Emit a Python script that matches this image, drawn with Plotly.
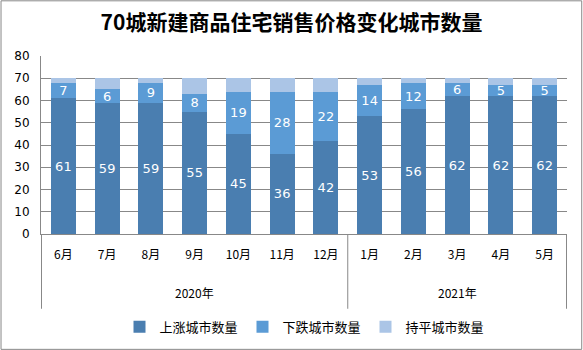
import plotly.graph_objects as go

months = ["6月", "7月", "8月", "9月", "10月", "11月", "12月", "1月", "2月", "3月", "4月", "5月"]
year_labels = ["2020年", "2021年"]
year_centers = ["9月", "3月"]
year_bounds = [-0.5, 6.5, 11.5]
up = [61, 59, 59, 55, 45, 36, 42, 53, 56, 62, 62, 62]
down = [7, 6, 9, 8, 19, 28, 22, 14, 12, 6, 5, 5]
flat = [2, 5, 2, 7, 6, 6, 6, 3, 2, 2, 3, 3]

font_fam = "DejaVu Sans, Noto Sans CJK SC, sans-serif"
cjk = "Noto Sans CJK SC, sans-serif"
grey = "#888888"

fig = go.Figure()
fig.add_bar(x=months, y=up, name="上涨城市数量", marker=dict(color="#4a7eb0", line=dict(width=0)),
            text=up, textposition="inside", insidetextanchor="middle", textangle=0,
            constraintext="none", cliponaxis=False,
            textfont=dict(color="white", size=13, family=font_fam))
fig.add_bar(x=months, y=down, name="下跌城市数量", marker=dict(color="#5b9bd5", line=dict(width=0)),
            text=down, textposition="inside", insidetextanchor="middle", textangle=0,
            constraintext="none", cliponaxis=False,
            textfont=dict(color="white", size=13, family=font_fam))
fig.add_bar(x=months, y=flat, name="持平城市数量", marker=dict(color="#abc5e6", line=dict(width=0)))

fig.update_layout(
    width=583, height=350,
    barmode="stack", bargap=0.43,
    margin=dict(l=41, r=16, t=56, b=116, autoexpand=False),
    paper_bgcolor="white", plot_bgcolor="white",
    font=dict(family=font_fam, size=12, color="#000000"),
    title=dict(text="<b>70城新建商品住宅销售价格变化城市数量</b>", x=0.5, xanchor="center",
               y=0.935, yanchor="middle",
               font=dict(size=21, family=cjk, color="#000000")),
    showlegend=True,
    legend=dict(orientation="h", x=0.5, xanchor="center", yref="container", y=0.066,
                yanchor="middle", font=dict(size=13, family=cjk), traceorder="normal",
                itemwidth=30, entrywidth=78, entrywidthmode="pixels"),
)
fig.update_yaxes(range=[0, 80], dtick=10, showgrid=True, gridcolor=grey, gridwidth=1,
                 showline=True, linecolor=grey, linewidth=1, ticks="", automargin=False,
                 ticklabelstandoff=8, tickfont=dict(size=12), zeroline=False)
fig.update_xaxes(type="category", showline=True, linecolor=grey, linewidth=1, automargin=False,
                 ticks="", ticklabelstandoff=10,
                 tickfont=dict(size=12, family=cjk))
for lab, c in zip(year_labels, year_centers):
    fig.add_annotation(x=c, xref="x", y=-0.331, yref="paper", text=lab, showarrow=False,
                       yanchor="middle", font=dict(size=12, family=cjk))
for b in year_bounds:
    fig.add_shape(type="line", xref="x", yref="paper", x0=b, x1=b, y0=0, y1=-0.42,
                  line=dict(color=grey, width=1))
fig.add_shape(type="rect", xref="paper", yref="paper", x0=-0.076, x1=1.028, y0=-0.648, y1=1.31,
              line=dict(color=grey, width=1))
fig.write_html("out.html")
